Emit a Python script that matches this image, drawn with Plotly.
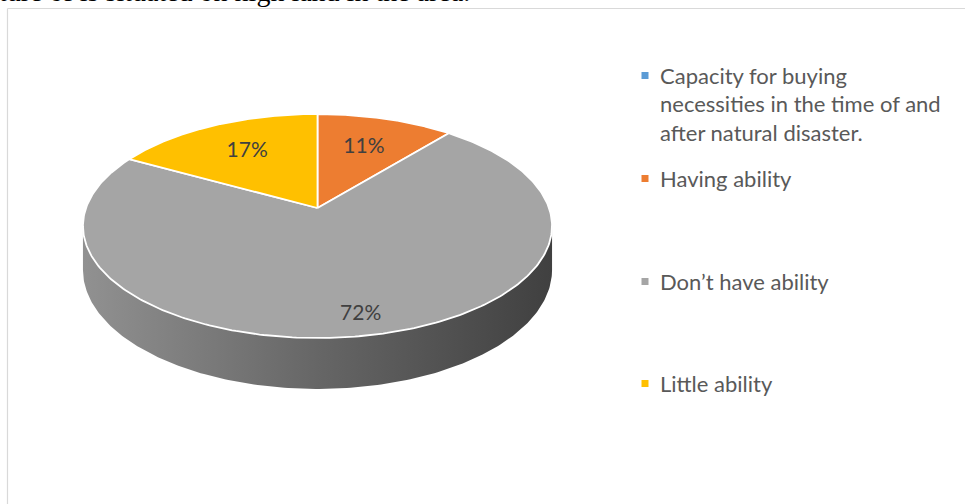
import numpy as np
import plotly.graph_objects as go

# ---------------- data ----------------
categories = [
    "Capacity for buying necessities in the time of and after natural disaster.",
    "Having ability",
    "Don’t have ability",
    "Little ability",
]
legend_lines = [
    ["Capacity for buying", "necessities in the time of and", "after natural disaster."],
    ["Having ability"],
    ["Don’t have ability"],
    ["Little ability"],
]
values = [0, 11, 72, 17]
colors = ["#5B9BD5", "#ED7D31", "#A5A5A5", "#FFC000"]
label_radius = [0.65, 0.65, 0.86, 0.65]

page_text = "ture of is situated on high land in the area."

# ---------------- geometry (3D pie projection) ----------------
W, H = 965, 504
cx, cy = 317.5, 208.0
rx, ry = 231.5, 109.1
k = 0.1607          # perspective
D = 42.8            # thickness


def proj(theta, f=1.0):
    u = f * np.sin(theta)
    v = f * np.cos(theta)
    den = 1 + k * v
    return cx + rx * u / den, cy - ry * v / den


def bottom(theta):
    x, y = proj(theta)
    return x, y + D / (1 + k * np.cos(theta))


def shade(hexc, f):
    h = hexc.lstrip("#")
    r, g, b = (int(h[i:i + 2], 16) for i in (0, 2, 4))
    return "rgb(%d,%d,%d)" % (min(255, r * f), min(255, g * f), min(255, b * f))


total = float(sum(values))
fracs = [v / total for v in values]
starts = np.concatenate([[0], np.cumsum(fracs)[:-1]]) * 2 * np.pi
ends = np.cumsum(fracs) * 2 * np.pi

fig = go.Figure()

# visible wall range (silhouette tangents)
t_vis0 = np.arccos(-k)
t_vis1 = 2 * np.pi - t_vis0

for i in range(len(values)):
    if values[i] <= 0:
        continue
    a, b = max(starts[i], t_vis0), min(ends[i], t_vis1)
    if b <= a:
        continue
    ts = np.linspace(a, b, 200)
    top = [proj(t) for t in ts]
    bot = [bottom(t) for t in ts[::-1]]
    xs = [p[0] for p in top] + [p[0] for p in bot] + [top[0][0]]
    ys = [p[1] for p in top] + [p[1] for p in bot] + [top[0][1]]
    fig.add_trace(go.Scatter(
        x=xs, y=ys, mode="lines", fill="toself",
        line=dict(width=0, color="rgba(0,0,0,0)"),
        fillgradient=dict(type="horizontal",
                          colorscale=[[0, shade(colors[i], 0.88)],
                                      [0.5, shade(colors[i], 0.62)],
                                      [1, shade(colors[i], 0.39)]]),
        hoverinfo="skip", showlegend=False,
    ))

# top faces
for i in range(len(values)):
    if values[i] <= 0:
        continue
    ts = np.linspace(starts[i], ends[i], 300)
    pts = [proj(t) for t in ts]
    xs = [cx] + [p[0] for p in pts] + [cx]
    ys = [cy] + [p[1] for p in pts] + [cy]
    fig.add_trace(go.Scatter(
        x=xs, y=ys, mode="lines", fill="toself", fillcolor=colors[i],
        line=dict(width=1.8, color="white"),
        hoverinfo="skip", showlegend=False,
    ))

# data labels
lx, ly, lt = [], [], []
for i in range(len(values)):
    if values[i] <= 0:
        continue
    mid = (starts[i] + ends[i]) / 2
    x, y = proj(mid, label_radius[i])
    lx.append(x)
    ly.append(y)
    lt.append("%d%%" % round(fracs[i] * 100))
fig.add_trace(go.Scatter(
    x=lx, y=ly, mode="text", text=lt,
    textfont=dict(family="Lato", size=21, color="#404040"),
    hoverinfo="skip", showlegend=False,
))

# legend (manual)
leg_x = 645
leg_y = [75.5, 178.5, 281.5, 383.5]
fig.add_trace(go.Scatter(
    x=[leg_x] * len(categories), y=leg_y, mode="markers",
    marker=dict(symbol="square", size=7, color=colors, line=dict(width=0)),
    hoverinfo="skip", showlegend=False,
))
annotations = []
for i, lines in enumerate(legend_lines):
    for j, line in enumerate(lines):
        annotations.append(dict(
            x=658 / W, y=1 - (leg_y[i] + 28.5 * j) / H, xref="paper", yref="paper",
            text=line, showarrow=False, xanchor="left", yanchor="middle",
            font=dict(family="Lato", size=22, color="#595959"),
        ))

annotations.append(dict(
    x=-3 / W, y=1, xref="paper", yref="paper", text=page_text, showarrow=False,
    xanchor="left", yanchor="middle", yshift=9,
    font=dict(family="Liberation Serif", size=28, color="black"),
))

shapes = [
    dict(type="line", xref="paper", yref="paper", x0=7.5 / W, x1=1.01, y0=1 - 8.5 / H, y1=1 - 8.5 / H,
         line=dict(color="#D9D9D9", width=1.2)),
    dict(type="line", xref="paper", yref="paper", x0=7.5 / W, x1=7.5 / W, y0=1 - 8.5 / H, y1=-0.01,
         line=dict(color="#D9D9D9", width=1.2)),
]

fig.update_layout(
    width=W, height=H, margin=dict(l=0, r=0, t=0, b=0),
    paper_bgcolor="white", plot_bgcolor="white",
    xaxis=dict(range=[0, W], visible=False, fixedrange=True),
    yaxis=dict(range=[H, 0], visible=False, fixedrange=True),
    annotations=annotations, shapes=shapes, showlegend=False,
)

fig.write_html("out.html", config={"displayModeBar": False},
               post_script="document.body.style.margin='0';document.body.style.overflow='hidden';")
